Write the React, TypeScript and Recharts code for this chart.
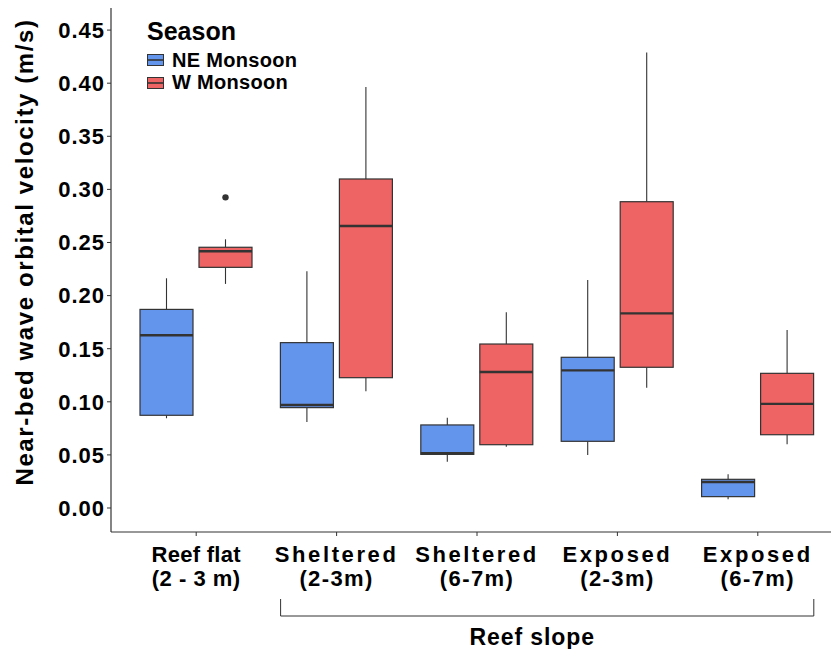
import React from 'react';
import { ComposedChart, Bar, XAxis, YAxis, Legend } from 'recharts';

// sites along the x axis (two-line labels)
const siteNames = ['Reef flat', 'Sheltered', 'Sheltered', 'Exposed', 'Exposed'];
const siteDepths = ['(2 - 3 m)', '(2-3m)', '(6-7m)', '(2-3m)', '(6-7m)'];

// NE Monsoon box stats
const neMin = [0.0845, 0.081, 0.0436, 0.0499, 0.0082];
const neQ1 = [0.0873, 0.0945, 0.0505, 0.0628, 0.0107];
const neMedian = [0.1626, 0.097, 0.0515, 0.1296, 0.0245];
const neQ3 = [0.187, 0.1557, 0.0782, 0.1419, 0.027];
const neMax = [0.2163, 0.2229, 0.085, 0.2147, 0.0317];
const neOutliers: number[][] = [[], [], [], [], []];

// W Monsoon box stats
const wMin = [0.211, 0.11, 0.0577, 0.1133, 0.06];
const wQ1 = [0.2266, 0.1227, 0.0596, 0.1325, 0.069];
const wMedian = [0.2417, 0.2655, 0.128, 0.1833, 0.098];
const wQ3 = [0.2455, 0.3098, 0.1544, 0.2884, 0.1268];
const wMax = [0.253, 0.3964, 0.1843, 0.4288, 0.1676];
const wOutliers: number[][] = [[0.2925], [], [], [], []];

const yTicks = [0, 0.05, 0.1, 0.15, 0.2, 0.25, 0.3, 0.35, 0.4, 0.45];

const NE_COLOR = '#6495ED';
const W_COLOR = '#EE6363';
const LINE = '#333333';
const FONT = '"Liberation Sans", Arial, Helvetica, sans-serif';

const PAD_L = 15;
const PAD_R = 3;
const BOX_W = 53;
const BOX_GAP = 6;

const data = siteNames.map((name, i) => ({
  site: name + ' ' + siteDepths[i],
  idx: i,
  ne: { min: neMin[i], q1: neQ1[i], med: neMedian[i], q3: neQ3[i], max: neMax[i], out: neOutliers[i] },
  w: { min: wMin[i], q1: wQ1[i], med: wMedian[i], q3: wQ3[i], max: wMax[i], out: wOutliers[i] },
}));

const range = (s: any) => [Math.min(s.min, ...s.out), Math.max(s.max, ...s.out)];

const BoxShape = (props: any) => {
  const { x, y, width, height, stats, fill } = props;
  if (!stats) return null;
  const [lo, hi] = range(stats);
  const top = Math.min(y, y + height);
  const bottom = Math.max(y, y + height);
  const py = (v: number) => bottom - ((v - lo) / (hi - lo)) * (bottom - top);
  const cx = x + width / 2;
  return (
    <g>
      <line x1={cx} x2={cx} y1={py(stats.max)} y2={py(stats.q3)} stroke={LINE} strokeWidth={1.1} />
      <line x1={cx} x2={cx} y1={py(stats.q1)} y2={py(stats.min)} stroke={LINE} strokeWidth={1.1} />
      <rect x={x} y={py(stats.q3)} width={width} height={py(stats.q1) - py(stats.q3)}
            fill={fill} stroke={LINE} strokeWidth={1.2} />
      <line x1={x} x2={x + width} y1={py(stats.med)} y2={py(stats.med)} stroke={LINE} strokeWidth={2.4} />
      {stats.out.map((o: number, k: number) => (
        <circle key={k} cx={cx} cy={py(o)} r={3.2} fill={LINE} />
      ))}
    </g>
  );
};

const XTick = (props: any) => {
  const { x, y, payload } = props;
  const i = data.findIndex(d => d.site === payload.value);
  // the slope labels are set wider than the reef flat one
  const spacing = i === 0 ? 0.3 : 2.6;
  return (
    <g transform={`translate(${x},${y})`}>
      <text textAnchor="middle" fontFamily={FONT} fontWeight="bold" fontSize={22} fill="#000">
        <tspan x={0} dy={24} letterSpacing={spacing}>{siteNames[i]}</tspan>
        <tspan x={0} dy={24} letterSpacing={i === 0 ? 0.5 : 1.4}>{siteDepths[i]}</tspan>
      </text>
    </g>
  );
};

const SlopeBracket = (props: any) => {
  const vb = props.viewBox || {};
  const band = (vb.width - PAD_L - PAD_R) / siteNames.length;
  const inset = (band - (BOX_W * 2 + BOX_GAP)) / 2;
  const x1 = vb.x + PAD_L + band + inset;
  const x2 = vb.x + PAD_L + band * siteNames.length - inset;
  const yLine = vb.y + 84;
  return (
    <g>
      <path d={`M${x1},${yLine - 17}V${yLine}H${x2}V${yLine - 17}`} fill="none" stroke={LINE} strokeWidth={1} />
      <text x={(x1 + x2) / 2 - 15} y={yLine + 29} textAnchor="middle" fontFamily={FONT}
            fontWeight="bold" fontSize={23} letterSpacing={0.9} fill="#000">Reef slope</text>
    </g>
  );
};

const YTitle = (props: any) => {
  const vb = props.viewBox || { x: 0, y: 8, height: 524 };
  const cx = vb.x + 33;
  const cy = vb.y + vb.height / 2 - 18;
  return (
    <text x={cx} y={cy} transform={`rotate(-90, ${cx}, ${cy})`} textAnchor="middle"
          fontFamily={FONT} fontWeight="bold" fontSize={24} letterSpacing={1.6} fill="#000">
      Near-bed wave orbital velocity (m/s)
    </text>
  );
};

const LegendBox = (props: any) => {
  const items = props.payload || [];
  return (
    <div style={{ fontFamily: FONT, fontWeight: 'bold', color: '#000' }}>
      <div style={{ fontSize: 25, lineHeight: '30px', marginBottom: 3 }}>Season</div>
      {items.map((it: any) => (
        <div key={it.value} style={{ display: 'flex', alignItems: 'center', height: 22.5 }}>
          <svg width={17} height={12} style={{ marginRight: 8 }}>
            <rect x={0.5} y={0.5} width={16} height={11} fill={it.color} stroke={LINE} strokeWidth={1} />
            <line x1={0.5} x2={16.5} y1={6} y2={6} stroke={LINE} strokeWidth={1.6} />
          </svg>
          <span style={{ fontSize: 20, letterSpacing: 0.3 }}>{it.value}</span>
        </div>
      ))}
    </div>
  );
};

export default function App() {
  return (
    <div style={{ position: 'absolute', left: 0, top: 0, background: '#fff' }}>
      <ComposedChart width={831} height={649} data={data}
                     margin={{ top: 8, right: 0, bottom: 0, left: 0 }}
                     barSize={BOX_W} barGap={BOX_GAP}>
        <XAxis dataKey="site" type="category" height={117} padding={{ left: PAD_L, right: PAD_R }}
               interval={0} axisLine={{ stroke: LINE, strokeWidth: 1.2 }}
               tickLine={{ stroke: LINE }} tickSize={4} tick={<XTick />}
               label={<SlopeBracket />} />
        <YAxis type="number" domain={[-0.0226, 0.4708]} ticks={yTicks} allowDataOverflow
               width={111} tickFormatter={(v: number) => v.toFixed(2)}
               axisLine={{ stroke: LINE, strokeWidth: 1.2 }} tickLine={{ stroke: LINE }} tickSize={4}
               tick={{ fontFamily: FONT, fontWeight: 'bold', fontSize: 22, fill: '#000', letterSpacing: 1 }}
               label={<YTitle />} />
        <Legend layout="vertical" align="center" verticalAlign="middle" content={<LegendBox />}
                wrapperStyle={{ top: 16, left: 147, width: 'auto', height: 'auto' }} />
        <Bar name="NE Monsoon" dataKey={(d: any) => range(d.ne)} fill={NE_COLOR} isAnimationActive={false}
             shape={(p: any) => <BoxShape {...p} stats={p.payload && p.payload.ne} fill={NE_COLOR} />} />
        <Bar name="W Monsoon" dataKey={(d: any) => range(d.w)} fill={W_COLOR} isAnimationActive={false}
             shape={(p: any) => <BoxShape {...p} stats={p.payload && p.payload.w} fill={W_COLOR} />} />
      </ComposedChart>
    </div>
  );
}
